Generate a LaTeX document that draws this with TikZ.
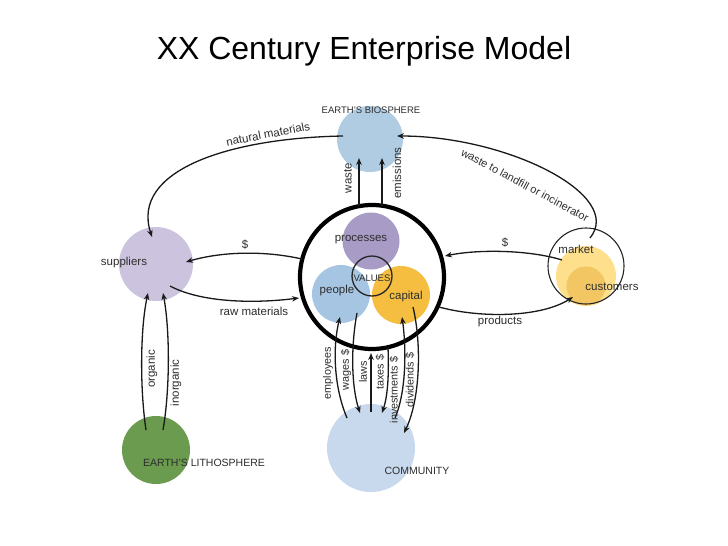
\documentclass[tikz,border=0pt]{standalone}
\usepackage{fontspec}
\setmainfont{Liberation Sans}
\usetikzlibrary{arrows.meta,calc}
\definecolor{bioC}{RGB}{176,204,226}
\definecolor{procC}{RGB}{168,156,199}
\definecolor{peopC}{RGB}{165,197,226}
\definecolor{capC}{RGB}{245,190,65}
\definecolor{supC}{RGB}{204,196,223}
\definecolor{lithC}{RGB}{106,155,78}
\definecolor{commC}{RGB}{200,217,238}
\definecolor{mktL}{RGB}{253,223,140}
\definecolor{mktD}{RGB}{242,198,98}
\definecolor{txtC}{RGB}{45,45,45}
\begin{document}
\begin{tikzpicture}[x=1pt,y=-1pt,
  blob/.style={circle,draw=none,inner sep=0pt,outer sep=0pt},
  conn/.style={line width=1.3pt,draw=black!90,-{Stealth[length=7pt,width=5.5pt]}},
  lbl/.style={font=\fontsize{11.5}{13}\selectfont,text=txtC,inner sep=0pt},
  vlbl/.style={font=\fontsize{10.8}{12}\selectfont,text=txtC,inner sep=0pt,rotate=90},
  capsl/.style={font=\fontsize{10.5}{12}\selectfont,text=txtC,inner sep=0pt}]
\useasboundingbox (0,0) rectangle (728,546);
\fill[white] (0,0) rectangle (728,546);

% title
\node[font=\fontsize{32}{36}\selectfont,anchor=base,inner sep=0pt] (title) at (364,59) {XX Century Enterprise Model};

% circles
\node[blob,fill=bioC,minimum size=66] (bio) at (370,139) {};
\node[blob,fill=supC,minimum size=74] (sup) at (156,264) {};
\node[blob,fill=lithC,minimum size=68] (lith) at (156,450) {};
\node[blob,fill=commC,minimum size=88] (comm) at (371,448) {};
\node[blob,draw=black,line width=4.2pt,fill=white,minimum size=144] (ent) at (372,277) {};
\node[blob,fill=procC,minimum size=57] (proc) at (371,241) {};
\node[blob,fill=peopC,minimum size=58] (peop) at (341,294) {};
\node[blob,fill=capC,minimum size=58] (cap) at (401,295) {};
\node[blob,draw=black!85,line width=1.3pt,minimum size=40] (val) at (372,276) {};
\node[blob,fill=mktL,minimum size=60] (mktl) at (586,276) {};
\node[blob,fill=mktD,minimum size=39] (cust) at (586,286) {};
\node[blob,draw=black!85,line width=1.1pt,minimum size=76] (mkt) at (586,266) {};

% connectors
\draw[conn] ($(bio)+(-27,-3)$) .. controls +(-113,2) and +(-22,-67) .. ($(sup)+(-4,-27)$);
\draw[conn] ($(mkt)+(4,-28)$) .. controls +(35,-43) and +(110,0) .. ($(bio)+(27,-3)$);
\draw[conn] ($(ent)+(-13,-71)$) -- ($(bio)+(-11,19)$);
\draw[conn] ($(ent)+(10,-71)$) -- ($(bio)+(12,19)$);
\draw[conn] ($(ent)+(-70,-18)$) .. controls +(-40,-9) and +(34,-10) .. ($(sup)+(30,-2)$);
\draw[conn] ($(sup)+(14,22)$) .. controls +(30,16) and +(-48,6) .. ($(ent)+(-73,21)$);
\draw[conn] ($(mkt)+(-24,-6)$) .. controls +(-32,-10) and +(34,-7) .. ($(ent)+(73,-21)$);
\draw[conn] ($(ent)+(67,30)$) .. controls +(40,11) and +(-33,21) .. ($(mkt)+(-13,31)$);
\draw[conn] ($(lith)+(-10,-20)$) .. controls +(-6,-40) and +(-8,37) .. ($(sup)+(-8,29)$);
\draw[conn] ($(lith)+(7,-20)$) .. controls +(7,-40) and +(7,37) .. ($(sup)+(7,29)$);
\draw[conn] ($(comm)+(-24,-30)$) .. controls +(-14,-33) and +(-7,28) .. ($(peop)+(-1,23)$);
\draw[conn] ($(peop)+(16,19)$) .. controls +(-6,32) and +(-9,-28) .. ($(comm)+(-11,-35)$);
\draw[conn] ($(comm)+(0,-36)$) -- ($(ent)+(-1,76)$);
\draw[conn] ($(ent)+(16,70)$) .. controls +(1,27) and +(6,-18) .. ($(comm)+(11,-35)$);
\draw[conn] ($(comm)+(24,-30)$) .. controls +(12,-28) and +(4,28) .. ($(cap)+(1,22)$);
\draw[conn] ($(cap)+(12,12)$) .. controls +(9,38) and +(16,-33) .. ($(comm)+(33,-15)$);

% labels
\node[capsl,font=\fontsize{9.5}{11}\selectfont] (tbio) at (371,110) {EARTH'S BIOSPHERE};
\node[capsl] (tlith) at (204,463) {EARTH'S LITHOSPHERE};
\node[capsl] (tcomm) at (417,471) {COMMUNITY};
\node[capsl,font=\fontsize{9.5}{11}\selectfont] (tval) at (372,278) {VALUES};
\node[lbl] (tproc) at (361,240) {processes};
\node[lbl] (tpeop) at (337,291) {people};
\node[lbl] (tcap) at (406,297) {capital};
\node[lbl] (tsup) at (124,263) {suppliers};
\node[lbl] (tmkt) at (576,249) {market};
\node[lbl] (tcust) at (612,287) {customers};
\node[lbl,rotate=11] (tnm) at (268,134) {natural materials};
\node[lbl,font=\fontsize{11}{13}\selectfont,rotate=-28] (twl) at (525,185) {waste to landfill or incinerator};
\node[vlbl,font=\fontsize{11.5}{13}\selectfont] (twaste) at (348,178) {waste};
\node[vlbl,font=\fontsize{11.5}{13}\selectfont] (temis) at (397,173) {emissions};
\node[lbl] (tdl) at (245,245) {\$};
\node[lbl] (tdr) at (505,243) {\$};
\node[lbl] (traw) at (254,311) {raw materials};
\node[lbl] (tprod) at (500,322) {products};
\node[vlbl,font=\fontsize{11.5}{13}\selectfont] (torg) at (152,369) {organic};
\node[vlbl,font=\fontsize{11.5}{13}\selectfont] (tinorg) at (176,383) {inorganic};
\node[vlbl] (temp) at (328,373) {employees};
\node[vlbl] (twag) at (346,370) {wages \$};
\node[vlbl] (tlaw) at (363,372) {laws};
\node[vlbl] (ttax) at (380,372) {taxes \$};
\node[vlbl] (tinv) at (394,390) {investments \$};
\node[vlbl] (tdiv) at (410,380) {dividends \$};
\end{tikzpicture}
\end{document}
